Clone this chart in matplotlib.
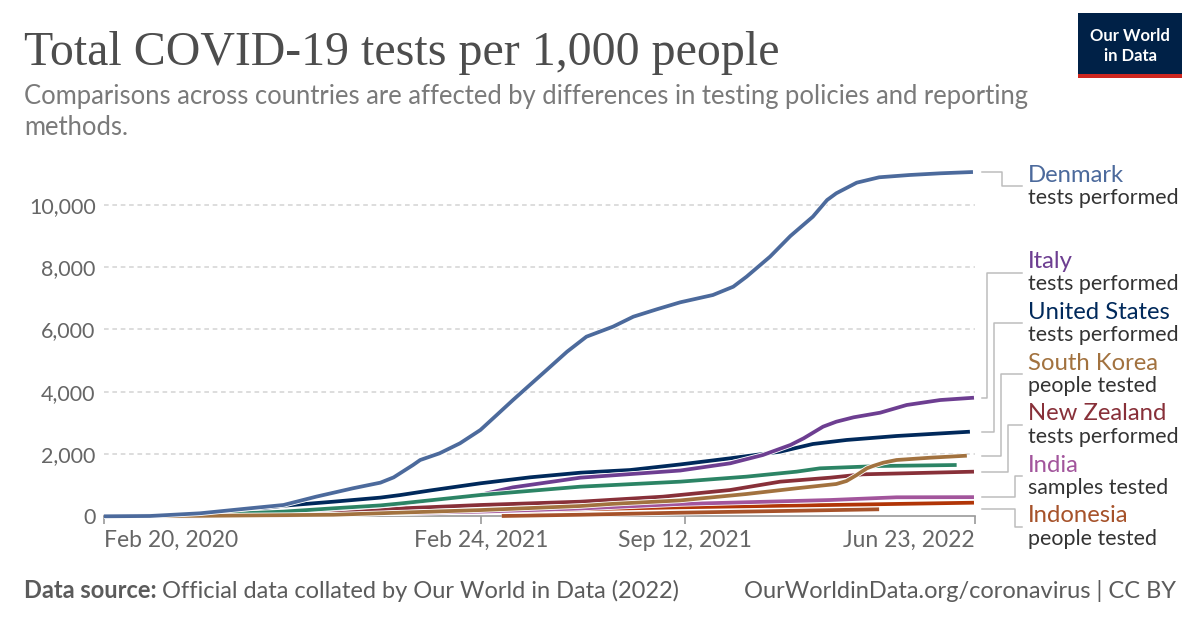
import matplotlib
matplotlib.use("Agg")
import matplotlib.pyplot as plt
import matplotlib.dates as mdates
import matplotlib.patheffects as pe
import pandas as pd

# ---------------- data ----------------
denmark_dates = ["2020-02-20", "2020-04-05", "2020-05-24", "2020-07-12", "2020-08-14", "2020-09-15",
                 "2020-10-21", "2020-11-17", "2020-11-30", "2020-12-19", "2020-12-26", "2021-01-14",
                 "2021-02-03", "2021-02-23", "2021-03-11", "2021-03-27", "2021-04-13", "2021-04-29",
                 "2021-05-19", "2021-06-07", "2021-07-03", "2021-07-23", "2021-08-15", "2021-09-07",
                 "2021-10-09", "2021-10-29", "2021-11-11", "2021-12-04", "2021-12-24", "2022-01-15",
                 "2022-01-29", "2022-02-07", "2022-02-27", "2022-03-21", "2022-04-20", "2022-05-20",
                 "2022-06-21"]
denmark_vals = [0, 10, 96, 257, 363, 630, 899, 1080, 1250, 1647, 1807, 2022, 2343, 2770, 3250, 3733,
                4230, 4697, 5284, 5766, 6087, 6408, 6645, 6870, 7104, 7371, 7692, 8334, 8998, 9618,
                10154, 10370, 10710, 10883, 10957, 11011, 11053]

us_dates = ["2020-02-20", "2020-04-05", "2020-05-24", "2020-07-12", "2020-08-14", "2020-10-02",
            "2020-11-17", "2020-12-06", "2021-01-05", "2021-02-23", "2021-04-13", "2021-06-01",
            "2021-07-20", "2021-09-07", "2021-10-26", "2021-12-14", "2022-01-15", "2022-02-17",
            "2022-04-07", "2022-06-18"]
us_vals = [0, 5, 60, 200, 340, 469, 600, 680, 830, 1059, 1252, 1400, 1486, 1665, 1862, 2074, 2321,
           2450, 2578, 2716]

italy_dates = ["2020-02-20", "2020-05-24", "2020-08-14", "2020-10-02", "2020-11-17", "2020-12-06",
               "2021-02-23", "2021-03-27", "2021-06-01", "2021-09-07", "2021-10-26", "2021-11-27",
               "2021-12-24", "2022-01-06", "2022-01-25", "2022-02-07", "2022-02-24", "2022-03-22",
               "2022-04-17", "2022-05-20", "2022-06-22"]
italy_vals = [0, 30, 130, 240, 340, 395, 690, 930, 1240, 1470, 1701, 1968, 2289, 2504, 2877, 3037,
              3178, 3326, 3573, 3733, 3807]

green_dates = ["2020-02-20", "2020-05-24", "2020-08-14", "2020-10-02", "2020-11-17", "2020-12-06",
               "2021-02-23", "2021-06-01", "2021-09-07", "2021-11-11", "2021-12-30", "2022-01-22",
               "2022-03-22", "2022-06-05"]
green_vals = [0, 40, 150, 257, 350, 410, 684, 951, 1112, 1273, 1433, 1540, 1615, 1647]

korea_dates = ["2020-02-20", "2020-05-24", "2020-10-02", "2021-02-23", "2021-06-01", "2021-07-03",
               "2021-09-07", "2021-11-11", "2021-12-30", "2022-02-07", "2022-02-17", "2022-02-27",
               "2022-03-09", "2022-03-15", "2022-03-25", "2022-04-07", "2022-05-10", "2022-06-15"]
korea_vals = [0, 15, 50, 200, 330, 400, 510, 716, 899, 1037, 1133, 1326, 1541, 1615, 1721, 1807,
              1881, 1946]

nz_dates = ["2020-02-20", "2020-05-24", "2020-08-14", "2020-11-17", "2021-02-23", "2021-06-01",
            "2021-08-21", "2021-10-26", "2021-12-14", "2022-02-01", "2022-03-05", "2022-06-22"]
nz_vals = [0, 50, 120, 225, 363, 469, 630, 844, 1112, 1240, 1348, 1433]

india_dates = ["2020-02-20", "2020-05-24", "2020-08-14", "2020-11-17", "2021-02-23", "2021-06-01",
               "2021-09-07", "2022-02-01", "2022-04-07", "2022-06-22"]
india_vals = [0, 3, 25, 95, 150, 250, 395, 523, 610, 615]

other_dates = ["2020-02-20", "2020-04-22", "2020-07-12", "2020-12-06", "2021-02-23", "2021-06-01",
               "2021-09-07", "2022-02-01", "2022-06-22"]
other_vals = [0, 0, 42, 110, 148, 225, 289, 363, 437]

indonesia_dates = ["2021-03-16", "2021-06-01", "2021-09-07", "2021-12-14", "2022-03-21"]
indonesia_vals = [10, 50, 116, 170, 225]

tick_dates = ["2020-02-20", "2021-02-24", "2021-09-12", "2022-06-23"]
tick_labels = ["Feb 20, 2020", "Feb 24, 2021", "Sep 12, 2021", "Jun 23, 2022"]
y_ticks = [0, 2000, 4000, 6000, 8000, 10000]

# (name, metric, dates, values, color, leader-elbow x px, label y px)
labelled = [
    ("Denmark", "tests performed", denmark_dates, denmark_vals, "#4C6A9C", 1001.7, 186),
    ("Italy", "tests performed", italy_dates, italy_vals, "#6D3E91", 986.7, 272.5),
    ("United States", "tests performed", us_dates, us_vals, "#00295B", 994.3, 323.3),
    ("South Korea", "people tested", korea_dates, korea_vals, "#A2723F", 1001.0, 374),
    ("New Zealand", "tests performed", nz_dates, nz_vals, "#883039", 1008.3, 425),
    ("India", "samples tested", india_dates, india_vals, "#A2559C", 1015.0, 476),
    ("Indonesia", "people tested", indonesia_dates, indonesia_vals, "#A6522A", 1015.0, 526.7),
]

# ---------------- figure ----------------
W, H = 1200, 628
fig = plt.figure(figsize=(W / 100, H / 100), dpi=100)
fig.patch.set_facecolor("white")

def fx(x):
    return x / W

def fy(y):
    return 1 - y / H

ax_left, ax_right, ax_bottom, ax_top = 104, 975, 516.3, 165
ax = fig.add_axes([fx(ax_left), fy(ax_bottom), fx(ax_right - ax_left), (ax_bottom - ax_top) / H])
ax.set_facecolor("none")

x0 = pd.Timestamp("2020-02-20")
x1 = pd.Timestamp("2022-06-23")
ax.set_xlim(x0, x1)
ymax = (ax_bottom - ax_top) / 31.15 * 1000
ax.set_ylim(0, ymax)

for s in ["top", "right", "left"]:
    ax.spines[s].set_visible(False)
ax.spines["bottom"].set_color("#9a9a9a")
ax.spines["bottom"].set_linewidth(1.2)
ax.spines["bottom"].set_zorder(1)

# gridlines
for yv in y_ticks[1:]:
    ax.axhline(yv, color="#dddddd", lw=1.4, linestyle=(0, (2.4, 1.9)), zorder=0)

font_main = "Lato"
ax.set_yticks(y_ticks)
ax.set_yticklabels([f"{v:,}" for v in y_ticks])
ax.tick_params(axis="y", length=0, pad=6, labelsize=15.5, labelcolor="#666666")

ax.set_xticks(pd.to_datetime(tick_dates))
ax.set_xticklabels(tick_labels)
ax.tick_params(axis="x", length=6, width=1.2, color="#9a9a9a", pad=4, labelsize=16.5,
               labelcolor="#666666")
xt = ax.get_xticklabels()
xt[0].set_ha("left")
xt[-1].set_ha("right")

for lab in ax.get_xticklabels() + ax.get_yticklabels():
    lab.set_fontfamily(font_main)

halo = [pe.Stroke(linewidth=3.9, foreground="white"), pe.Normal()]

def draw(dates, vals, color, z):
    ax.plot(pd.to_datetime(dates), vals, color=color, lw=2.7, solid_capstyle="butt",
            solid_joinstyle="round", zorder=z, path_effects=halo, clip_on=False)

draw(indonesia_dates, indonesia_vals, "#A6522A", 2)
draw(other_dates, other_vals, "#B13507", 3)
draw(india_dates, india_vals, "#A2559C", 4)
draw(nz_dates, nz_vals, "#883039", 5)
draw(us_dates, us_vals, "#00295B", 6)
draw(italy_dates, italy_vals, "#6D3E91", 7)
draw(green_dates, green_vals, "#2C8465", 8)
draw(korea_dates, korea_vals, "#A2723F", 9)
draw(denmark_dates, denmark_vals, "#4C6A9C", 10)

# ---------------- labels and leaders ----------------
fig.canvas.draw()
leader_color = "#bdbdbd"
for name, metric, dates, vals, color, elbow, ly in labelled:
    end_px = ax.transData.transform((mdates.date2num(pd.Timestamp(dates[-1])), vals[-1]))
    ypix = H - end_px[1]
    xs = [981.7, elbow, elbow, 1021.7]
    ys = [ypix, ypix, ly, ly]
    fig.add_artist(plt.Line2D([fx(v) for v in xs], [fy(v) for v in ys], color=leader_color,
                              lw=1.1, transform=fig.transFigure))
    fig.text(fx(1028), fy(ly - 11), name, color=color, fontsize=17.2, family=font_main,
             va="center", ha="left")
    fig.text(fx(1028), fy(ly + 12), metric, color="#333333", fontsize=15.4, family=font_main,
             va="center", ha="left")

# ---------------- header ----------------
fig.text(fx(24), fy(65), "Total COVID-19 tests per 1,000 people", family="Liberation Serif",
         fontsize=34.5, color="#4d4d4d", ha="left", va="baseline")
fig.text(fx(24), fy(104), "Comparisons across countries are affected by differences in testing policies and reporting",
         family=font_main, fontsize=18.45, color="#7a7a7a", ha="left", va="baseline")
fig.text(fx(24), fy(135), "methods.", family=font_main, fontsize=18.45, color="#7a7a7a",
         ha="left", va="baseline")

# logo
logo = plt.Rectangle((fx(1078), fy(78)), fx(104), (78 - 13) / H, transform=fig.transFigure,
                     facecolor="#002147", edgecolor="none")
fig.add_artist(logo)
red = plt.Rectangle((fx(1078), fy(78)), fx(104), 4 / H, transform=fig.transFigure,
                    facecolor="#CE261E", edgecolor="none")
fig.add_artist(red)
fig.text(fx(1130), fy(36), "Our World", family=font_main, fontsize=12, color="white",
         ha="center", va="center", weight="bold")
fig.text(fx(1130), fy(56), "in Data", family=font_main, fontsize=12, color="white",
         ha="center", va="center", weight="bold")

# ---------------- footer ----------------
t1 = fig.text(fx(24), fy(598), "Data source:", family=font_main, fontsize=17, color="#5b5b5b",
              ha="left", va="baseline", weight="bold")
fig.canvas.draw()
bb = t1.get_window_extent()
fig.text((bb.x1 + 5) / W, fy(598), "Official data collated by Our World in Data (2022)",
         family=font_main, fontsize=17, color="#5b5b5b", ha="left", va="baseline")
fig.text(fx(1176), fy(598), "OurWorldinData.org/coronavirus | CC BY", family=font_main,
         fontsize=17, color="#5b5b5b", ha="right", va="baseline")

fig.savefig("out.png", dpi=100, facecolor="white")
